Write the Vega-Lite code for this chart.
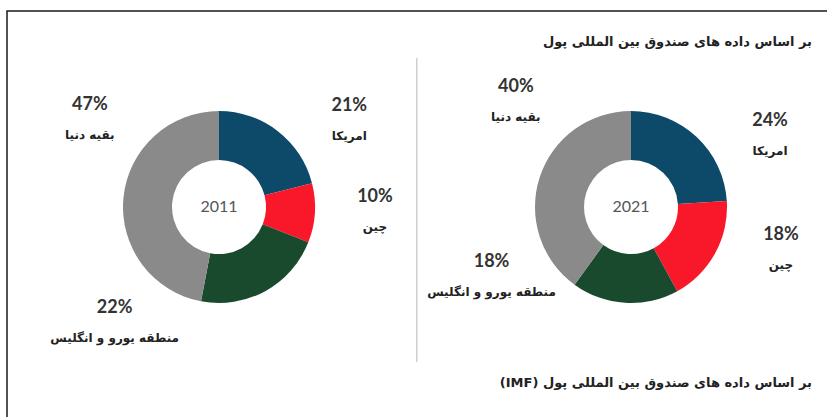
{
  "$schema": "https://vega.github.io/schema/vega-lite/v6.json",
  "width": 830,
  "height": 420,
  "autosize": {"type": "none"},
  "padding": {"left": 7, "top": 11, "right": 0, "bottom": 0},
  "background": "white",
  "config": {"view": {"stroke": "#1a1a1a", "strokeWidth": 1.5}},
  "title": {
    "text": "\u202Bبر اساس داده های صندوق بین المللی پول\u202C",
    "subtitle": "\u202Bبر اساس داده های صندوق بین المللی پول (IMF)\u202C",
    "anchor": "end",
    "orient": "top",
    "frame": "group",
    "offset": -379,
    "dx": -25,
    "font": "DejaVu Sans",
    "fontSize": 13,
    "fontWeight": "bold",
    "color": "#222222",
    "subtitleFont": "DejaVu Sans",
    "subtitleFontSize": 13,
    "subtitleFontWeight": "bold",
    "subtitleColor": "#222222",
    "subtitlePadding": 328
  },
  "datasets": {
    "shares": [
      {"year": 2011, "region": "امریکا", "pct": 21, "k": 1, "label": "21%"},
      {"year": 2011, "region": "چین", "pct": 10, "k": 2, "label": "10%"},
      {"year": 2011, "region": "منطقه یورو و انگلیس", "pct": 22, "k": 3, "label": "22%"},
      {"year": 2011, "region": "بقیه دنیا", "pct": 47, "k": 4, "label": "47%"},
      {"year": 2021, "region": "امریکا", "pct": 24, "k": 1, "label": "24%"},
      {"year": 2021, "region": "چین", "pct": 18, "k": 2, "label": "18%"},
      {"year": 2021, "region": "منطقه یورو و انگلیس", "pct": 18, "k": 3, "label": "18%"},
      {"year": 2021, "region": "بقیه دنیا", "pct": 40, "k": 4, "label": "40%"}
    ],
    "years": [{"year": 2011, "name": "2011"}, {"year": 2021, "name": "2021"}],
    "divider": [{"x": 2015.8, "top": 88.8, "bottom": 16.4}]
  },
  "layer": [
    {
      "data": {"name": "divider"},
      "mark": {"type": "rule", "color": "#cfcfcf", "strokeWidth": 1.5},
      "encoding": {
        "x": {"field": "x", "type": "quantitative", "scale": {"domain": [2005.854, 2026]}, "axis": null},
        "y": {"field": "top", "type": "quantitative", "scale": {"domain": [0, 100]}, "axis": null},
        "y2": {"field": "bottom"}
      }
    },
    {
      "data": {"name": "shares"},
      "transform": [{"filter": "datum.year == 2011"}],
      "resolve": {"scale": {"theta": "independent"}},
      "encoding": {
        "x": {"datum": 2011, "type": "quantitative", "scale": {"domain": [2005.854, 2026]}, "axis": null},
        "y": {"datum": 53.33, "type": "quantitative", "scale": {"domain": [0, 100]}, "axis": null},
        "order": {"field": "k", "type": "quantitative"},
        "detail": {"field": "region"}
      },
      "layer": [
        {
          "mark": {"type": "arc", "outerRadius": 96, "innerRadius": 47},
          "encoding": {
            "theta": {"field": "pct", "type": "quantitative", "stack": true, "scale": {"domain": [0, 100]}},
            "color": {
              "field": "region", "type": "nominal", "legend": null,
              "scale": {"domain": ["امریکا", "چین", "منطقه یورو و انگلیس", "بقیه دنیا"], "range": ["#0d4a6a", "#f8182a", "#1a4a2e", "#8a8a8a"]}
            }
          }
        },
        {
          "mark": {"type": "text", "radius": 156, "dy": -15, "font": "Lato", "fontWeight": "bold", "fontSize": 18, "fill": "#333333"},
          "encoding": {
            "theta": {"field": "pct", "type": "quantitative", "stack": true, "scale": {"domain": [0, 11.5, 33, 42, 100], "range": [0, 1.0821, 1.85, 3.8746, 6.2832]}},
            "text": {"field": "label"}
          }
        },
        {
          "mark": {"type": "text", "radius": 156, "dy": 15, "font": "DejaVu Sans", "fontWeight": "bold", "fontSize": 12, "fill": "#222222"},
          "encoding": {
            "theta": {"field": "pct", "type": "quantitative", "stack": true, "scale": {"domain": [0, 11.5, 33, 42, 100], "range": [0, 1.0821, 1.85, 3.8746, 6.2832]}},
            "text": {"field": "region"}
          }
        }
      ]
    },
    {
      "data": {"name": "shares"},
      "transform": [{"filter": "datum.year == 2021"}],
      "resolve": {"scale": {"theta": "independent"}},
      "encoding": {
        "x": {"datum": 2021, "type": "quantitative", "scale": {"domain": [2005.854, 2026]}, "axis": null},
        "y": {"datum": 53.33, "type": "quantitative", "scale": {"domain": [0, 100]}, "axis": null},
        "order": {"field": "k", "type": "quantitative"},
        "detail": {"field": "region"}
      },
      "layer": [
        {
          "mark": {"type": "arc", "outerRadius": 96, "innerRadius": 47},
          "encoding": {
            "theta": {"field": "pct", "type": "quantitative", "stack": true, "scale": {"domain": [0, 100]}},
            "color": {
              "field": "region", "type": "nominal", "legend": null,
              "scale": {"domain": ["امریکا", "چین", "منطقه یورو و انگلیس", "بقیه دنیا"], "range": ["#0d4a6a", "#f8182a", "#1a4a2e", "#8a8a8a"]}
            }
          }
        },
        {
          "mark": {"type": "text", "radius": 156, "dy": -15, "font": "Lato", "fontWeight": "bold", "fontSize": 18, "fill": "#333333"},
          "encoding": {
            "theta": {"field": "pct", "type": "quantitative", "stack": true, "scale": {"domain": [0, 11.5, 33, 42, 100], "range": [0, 1.0821, 1.85, 3.8746, 6.2832]}},
            "text": {"field": "label"}
          }
        },
        {
          "mark": {"type": "text", "radius": 156, "dy": 15, "font": "DejaVu Sans", "fontWeight": "bold", "fontSize": 12, "fill": "#222222"},
          "encoding": {
            "theta": {"field": "pct", "type": "quantitative", "stack": true, "scale": {"domain": [0, 11.5, 33, 42, 100], "range": [0, 1.0821, 1.85, 3.8746, 6.2832]}},
            "text": {"field": "region"}
          }
        }
      ]
    },
    {
      "data": {"name": "years"},
      "mark": {"type": "text", "font": "Lato", "fontSize": 16, "fill": "#555555"},
      "encoding": {
        "x": {"field": "year", "type": "quantitative", "scale": {"domain": [2005.854, 2026]}, "axis": null},
        "y": {"datum": 53.33, "type": "quantitative", "scale": {"domain": [0, 100]}, "axis": null},
        "text": {"field": "name"}
      }
    }
  ]
}
